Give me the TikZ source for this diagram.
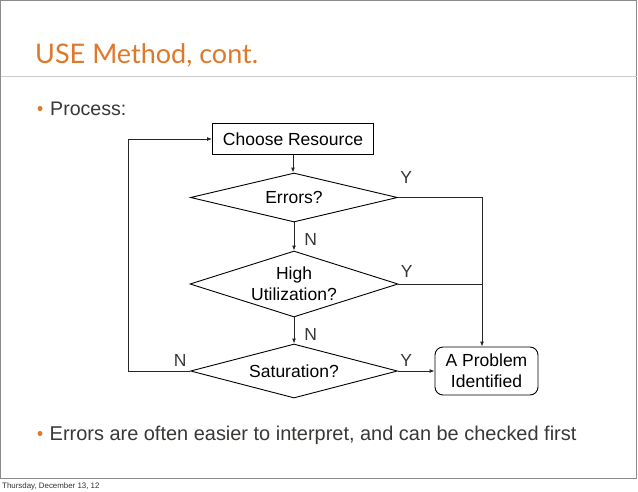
\documentclass[tikz,border=0pt]{standalone}
\usepackage{fontspec}
\setmainfont{Liberation Sans}
\newfontfamily\titlefont{Lato}
\usetikzlibrary{shapes.geometric,arrows.meta}
\definecolor{accent}{RGB}{224,120,42}
\definecolor{bodytext}{RGB}{58,55,52}
\definecolor{framegray}{RGB}{140,140,140}
\definecolor{rulegray}{RGB}{205,205,205}
\begin{document}
\begin{tikzpicture}[x=1pt,y=-1pt,
  flow/.style={draw=black, line width=0.9pt, font=\fontsize{17.5}{21}\selectfont, text=black},
  procbox/.style={flow, rectangle, minimum width=161pt, minimum height=31pt, inner sep=0pt},
  decision/.style={flow, diamond, inner sep=0pt, align=center},
  conn/.style={line width=0.9pt, draw=black!85},
  arr/.style={conn, -{Latex[length=5pt,width=4pt]}},
  lab/.style={text=bodytext, font=\fontsize{17.5}{21}\selectfont, inner sep=0pt},
  bullettext/.style={text=bodytext, inner sep=0pt, anchor=base west},
  bulletdot/.style={circle, fill=accent, inner sep=0pt, minimum size=5pt},
]
\useasboundingbox (0,0) rectangle (638,491);
\fill[white] (0,0) rectangle (638,491);
\draw[framegray, line width=1pt] (0.5,0.5) rectangle (636.8,478.7);
\draw[rulegray, line width=1pt] (0.5,76.5) -- (636.8,76.5);

\node[anchor=base west, text=accent, font=\titlefont\fontsize{27}{30}\selectfont, inner sep=0pt] (title) at (35,63) {USE Method, cont.};
\node[bulletdot] (b1) at (40,108.5) {};
\node[bullettext, font=\fontsize{19.6}{23}\selectfont] (p1) at (50,115) {Process:};
\node[bulletdot] (b2) at (40,433.5) {};
\node[bullettext, font=\fontsize{19.95}{23}\selectfont] (p2) at (49.5,440) {Errors are often easier to interpret, and can be checked first};
\node[anchor=base west, text=black!80, font=\fontsize{7.9}{9}\selectfont, inner sep=0pt] (foot) at (2,488) {Thursday, December 13, 12};

\node[procbox] (choose) at (293,139) {Choose Resource};
\node[decision, minimum width=207pt, minimum height=49pt, aspect=3.8] (err) at (294,197.5) {Errors?};
\node[decision, minimum width=208pt, minimum height=66pt, aspect=3.15] (high) at (294,284) {High\\Utilization?};
\node[decision, minimum width=207pt, minimum height=54pt, aspect=3.8] (sat) at (294,371) {Saturation?};
\node[flow, rounded corners=8pt, minimum width=103pt, minimum height=48pt, inner sep=0pt, align=center] (prob) at (486.5,371) {A Problem\\Identified};

\coordinate (col) at (482,0);
\coordinate (loop) at (128,0);

\draw[arr] (choose.south) -- (choose.south |- err.north);
\draw[arr] (err) -- node[lab, pos=0.6, anchor=west, xshift=10pt] {N} (high);
\draw[arr] (high) -- node[lab, pos=0.65, anchor=west, xshift=10pt] {N} (sat);
\draw[arr] (err.east) node[lab, anchor=south west, xshift=2pt, yshift=14pt] {Y} -- (err.east -| col) -- (prob.north -| col);
\draw[conn] (high.east) node[lab, anchor=south west, xshift=2pt, yshift=6pt] {Y} -- (high.east -| col);
\draw[arr] (sat.east) node[lab, anchor=south west, xshift=2pt, yshift=4pt] {Y} -- (prob.west);
\draw[arr] (sat.west) node[lab, anchor=south east, xshift=-3pt, yshift=4pt] {N} -- (sat.west -| loop) -- (choose.west -| loop) -- (choose.west);
\end{tikzpicture}
\end{document}
